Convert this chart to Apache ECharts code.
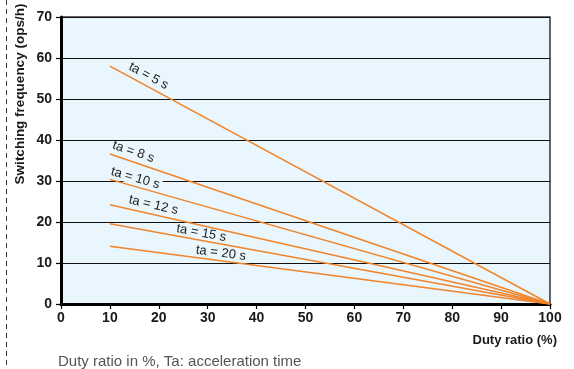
<!DOCTYPE html>
<html><head><meta charset="utf-8">
<script src="https://cdn.jsdelivr.net/npm/echarts@6/dist/echarts.min.js"></script>
<style>html,body{margin:0;padding:0;background:#fff}#c{width:574px;height:369px}</style>
</head><body><div id="c"></div>
<script>
// Data
var seriesNames = ['ta = 5 s','ta = 8 s','ta = 10 s','ta = 12 s','ta = 15 s','ta = 20 s'];
var startX = [10, 10, 10, 10, 10, 10];
var startY = [58.0, 36.6, 30.4, 24.2, 19.6, 14.1];
var endX = [100, 100, 100, 100, 100, 100];
var endY = [0, 0, 0, 0, 0, 0];
var labelX = [17.9, 14.8, 15.2, 18.9, 28.7, 32.7];
var labelY = [55.6, 37.1, 30.7, 24.1, 17.3, 12.4];
var xTicks = [0,10,20,30,40,50,60,70,80,90,100];
var yTicks = [0,10,20,30,40,50,60,70];

var labelRot = [-28.5, -18.9, -15.9, -12.8, -10.3, -7.5];
var plotBg = '#eaf6fd';
var orange = '#f0842a';
var font = '"Liberation Sans", Arial, Helvetica, sans-serif';

var chart = echarts.init(document.getElementById('c'), null, {renderer:'canvas'});
var series = seriesNames.map(function(n, i){
  return {
    type: 'line', name: n, symbol: 'none', animation: false,
    lineStyle: {color: orange, width: 1.5},
    data: [[startX[i], startY[i]], [endX[i], endY[i]]],
    markPoint: {
      symbol: 'circle', symbolSize: 0, animation: false,
      data: [{
        coord: [labelX[i], labelY[i]],
        label: {
          show: true, position: 'inside', formatter: n, rotate: labelRot[i],
          color: '#222', fontFamily: font, fontSize: 13,
          backgroundColor: i === 2 ? plotBg : 'transparent', padding: [0, 2]
        }
      }]
    }
  };
});

chart.setOption({
  animation: false,
  grid: {left: 61, right: 24, top: 17, bottom: 65, show: true, backgroundColor: plotBg, borderColor: '#333', borderWidth: 1.5},
  xAxis: {
    type: 'value', min: 0, max: 100, interval: 10,
    axisLine: {show: true, lineStyle: {color: '#000', width: 3}},
    axisTick: {show: true, length: 5, lineStyle: {color: '#000', width: 1.2}},
    splitLine: {show: false},
    axisLabel: {color: '#1a1a1a', fontWeight: 'bold', fontSize: 14, fontFamily: font, margin: 7,
      formatter: function(v){ return xTicks.indexOf(v) >= 0 ? String(v) : ''; }}
  },
  yAxis: {
    type: 'value', min: 0, max: 70, interval: 10,
    axisLine: {show: true, lineStyle: {color: '#000', width: 3}},
    axisTick: {show: true, length: 5, lineStyle: {color: '#000', width: 1.2}},
    splitLine: {show: true, lineStyle: {color: '#111', width: 1.2}},
    axisLabel: {color: '#1a1a1a', fontWeight: 'bold', fontSize: 14, fontFamily: font, margin: 9,
      formatter: function(v){ return yTicks.indexOf(v) >= 0 ? String(v) : ''; }}
  },
  series: series,
  graphic: [
    {type: 'line', shape: {x1: 6.5, y1: 0, x2: 6.5, y2: 369}, style: {stroke: '#333', lineWidth: 1, lineDash: [5, 4]}},
    {type: 'text', x: 20, y: 94, rotation: Math.PI/2,
      style: {text: 'Switching frequency (ops/h)', font: 'bold 13.5px ' + font, fill: '#1a1a1a', textAlign: 'center', textVerticalAlign: 'middle'}},
    {type: 'text', x: 557, y: 340,
      style: {text: 'Duty ratio (%)', font: 'bold 13px ' + font, fill: '#1a1a1a', textAlign: 'right', textVerticalAlign: 'middle'}},
    {type: 'text', x: 58, y: 362,
      style: {text: 'Duty ratio in %, Ta: acceleration time', font: '15px ' + font, fill: '#555', textAlign: 'left', textVerticalAlign: 'middle'}}
  ]
});
</script></body></html>
